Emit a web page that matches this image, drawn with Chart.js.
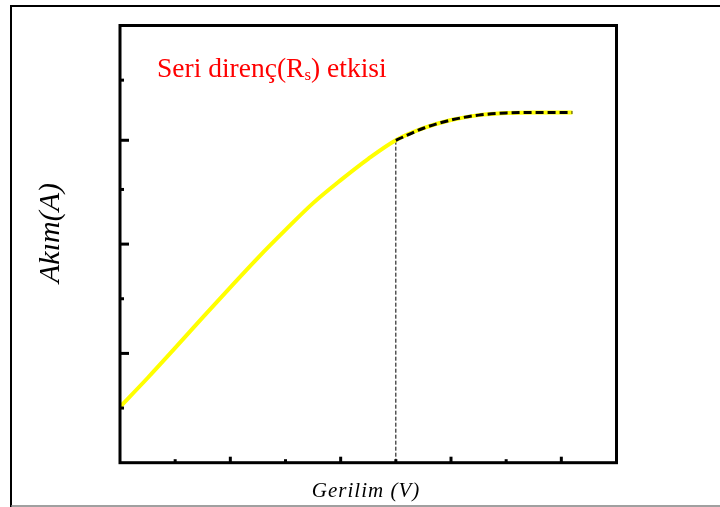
<!DOCTYPE html>
<html><head><meta charset="utf-8">
<script src="https://cdn.jsdelivr.net/npm/chart.js@4.4.0/dist/chart.umd.min.js"></script>
<style>html,body{margin:0;padding:0;background:#fff;} #wrap{width:720px;height:507px;position:relative;}</style>
</head><body><div id="wrap"><canvas id="c" width="720" height="507"></canvas></div>
<script>
// Data (arbitrary units)
const voltage = [0, 0.5, 1, 1.5, 2, 2.5, 3, 3.5, 4, 4.5, 5, 5.5, 6, 6.5, 7, 7.5, 8.2];
const current = [1.02, 1.55, 2.10, 2.66, 3.21, 3.75, 4.26, 4.75, 5.17, 5.56, 5.90, 6.12, 6.27, 6.36, 6.40, 6.41, 6.41];
const kneeVoltage = 5;
const xTicks = [1, 2, 3, 4, 5, 6, 7, 8];
const xMajorTicks = [2, 4, 6, 8];
const yTicks = [1, 2, 3, 4, 5, 5.9, 7];
const yMajorTicks = [2, 4, 5.9];
const xTitle = 'Gerilim (V)';
const yTitle = 'Akım(A)';
const noteMain = 'Seri direnç(R';
const noteSub = 's';
const noteEnd = ') etkisi';

const curvePts = voltage.map((v, i) => ({x: v, y: current[i]}));
const rsPts = curvePts.filter(p => p.x >= kneeVoltage);
const kneeY = current[voltage.indexOf(kneeVoltage)];
const vlinePts = [{x: kneeVoltage, y: 0}, {x: kneeVoltage, y: kneeY}];

const decor = {
  id: 'decor',
  beforeDraw(chart) {
    const ctx = chart.ctx;
    ctx.save();
    ctx.fillStyle = '#fff';
    ctx.fillRect(0, 0, chart.width, chart.height);
    ctx.strokeStyle = '#000';
    ctx.lineWidth = 2;
    ctx.beginPath();
    ctx.moveTo(11, 507); ctx.lineTo(11, 6); ctx.lineTo(720, 6);
    ctx.stroke();
    ctx.strokeStyle = '#808080';
    ctx.lineWidth = 1.5;
    ctx.beginPath();
    ctx.moveTo(11, 506); ctx.lineTo(720, 506);
    ctx.stroke();
    ctx.restore();
  },
  afterDatasetsDraw(chart) {
    const ctx = chart.ctx;
    const a = chart.chartArea;
    const xs = chart.scales.x, ys = chart.scales.y;
    ctx.save();
    ctx.strokeStyle = '#000';
    ctx.lineWidth = 3;
    yTicks.forEach(t => {
      const py = ys.getPixelForValue(t);
      const len = yMajorTicks.includes(t) ? 9 : 4;
      ctx.beginPath(); ctx.moveTo(a.left, py); ctx.lineTo(a.left + len, py); ctx.stroke();
    });
    xTicks.forEach(t => {
      const px = xs.getPixelForValue(t);
      const len = xMajorTicks.includes(t) ? 6 : 3.5;
      ctx.beginPath(); ctx.moveTo(px, a.bottom); ctx.lineTo(px, a.bottom - len); ctx.stroke();
    });
    ctx.lineWidth = 3;
    ctx.strokeRect(a.left, a.top, a.right - a.left, a.bottom - a.top);
    ctx.fillStyle = '#000';
    ctx.font = 'italic 21px "Liberation Serif"';
    ctx.textAlign = 'center';
    ctx.textBaseline = 'alphabetic';
    if ('letterSpacing' in ctx) ctx.letterSpacing = '1px';
    ctx.fillText(xTitle, 366, 497);
    if ('letterSpacing' in ctx) ctx.letterSpacing = '0px';
    ctx.save();
    ctx.translate(59, 233);
    ctx.rotate(-Math.PI / 2);
    ctx.font = 'italic 30px "Liberation Serif"';
    ctx.fillText(yTitle, 0, 0);
    ctx.restore();
    ctx.fillStyle = '#ff0000';
    ctx.textAlign = 'left';
    ctx.font = '27.5px "Liberation Serif"';
    let x0 = 157;
    ctx.fillText(noteMain, x0, 77);
    x0 += ctx.measureText(noteMain).width;
    ctx.font = '17px "Liberation Serif"';
    ctx.fillText(noteSub, x0, 80);
    x0 += ctx.measureText(noteSub).width;
    ctx.font = '27.5px "Liberation Serif"';
    ctx.fillText(noteEnd, x0, 77);
    ctx.restore();
  }
};

new Chart(document.getElementById('c'), {
  type: 'line',
  data: {
    datasets: [
      {data: vlinePts, order: 3, borderColor: '#000', borderWidth: 1, borderDash: [4, 2], pointRadius: 0, tension: 0},
      {data: curvePts, order: 2, borderColor: '#ffff00', borderWidth: 4, pointRadius: 0, cubicInterpolationMode: 'monotone'},
      {data: rsPts, order: 1, borderColor: '#000', borderWidth: 3, borderDash: [8, 4], pointRadius: 0, cubicInterpolationMode: 'monotone'}
    ]
  },
  options: {
    responsive: false,
    animation: false,
    devicePixelRatio: 1,
    layout: {padding: {left: 120, right: 103.5, top: 25.5, bottom: 44.3}},
    plugins: {legend: {display: false}, tooltip: {enabled: false}, title: {display: false}},
    scales: {
      x: {type: 'linear', min: 0, max: 9, display: false},
      y: {type: 'linear', min: 0, max: 8, display: false}
    }
  },
  plugins: [decor]
});
</script></body></html>
